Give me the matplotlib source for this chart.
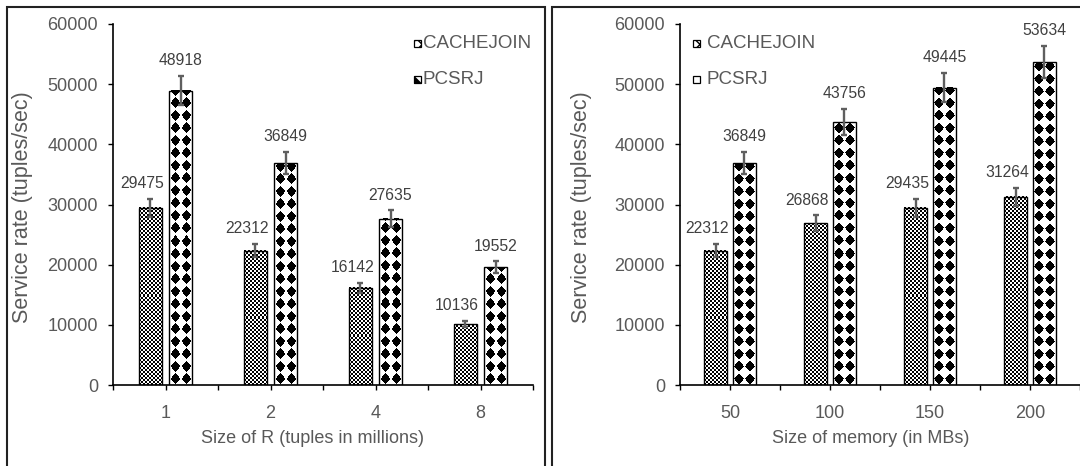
import numpy as np
import matplotlib
matplotlib.use("Agg")
import matplotlib.pyplot as plt
from matplotlib.patches import Rectangle, Polygon

plt.rcParams["font.family"] = ["Liberation Sans", "DejaVu Sans"]

# ---- data ----
series = ["CACHEJOIN", "PCSRJ"]

r_sizes = ["1", "2", "4", "8"]
r_cachejoin = [29475, 22312, 16142, 10136]
r_pcsrj = [48918, 36849, 27635, 19552]
r_cachejoin_err = [1470, 1120, 810, 510]
r_pcsrj_err = [2450, 1840, 1380, 980]

mem_sizes = ["50", "100", "150", "200"]
m_cachejoin = [22312, 26868, 29435, 31264]
m_pcsrj = [36849, 43756, 49445, 53634]
m_cachejoin_err = [1120, 1340, 1470, 1560]
m_pcsrj_err = [1840, 2190, 2470, 2680]

W_PX, H_PX = 1080, 466
TXT = "#595959"
LBL = "#404040"
LABEL_FONT = ["Liberation Sans Narrow", "Liberation Sans", "DejaVu Sans"]


def checker(w, h, cell=2):
    yy, xx = np.mgrid[0:h, 0:w]
    return ((xx // cell + yy // cell) % 2).astype(float)


def diamonds(w, h, px=11.0, py=12.5, r=0.92):
    yy, xx = np.mgrid[0:h, 0:w] + 0.5
    cx = w / 2.0 - px / 2.0
    dx = np.abs(((xx - cx) + px / 2) % px - px / 2) / (px / 2)
    dy = np.abs(((yy - py / 2) + py / 2) % py - py / 2) / (py / 2)
    return np.where(dx + dy < r, 0.0, 1.0)


def textured_bars(ax, xs, vals, width, pattern):
    bars = ax.bar(xs, vals, width, facecolor="none", edgecolor="black",
                  linewidth=1.0, zorder=3)
    for x, v in zip(xs, vals):
        x0, x1 = x - width / 2, x + width / 2
        p0 = ax.transData.transform((x0, 0))
        p1 = ax.transData.transform((x1, v))
        w = max(int(round(p1[0] - p0[0])), 1)
        h = max(int(round(p1[1] - p0[1])), 1)
        ax.imshow(pattern(w, h), extent=(x0, x1, 0, v), origin="lower",
                  cmap="gray", vmin=0, vmax=1, aspect="auto",
                  interpolation="nearest", zorder=2)
    return bars


def panel(rect, cats, cj, pc, cj_err, pc_err, xlabel, xlabel_pos):
    ax = fig.add_axes(rect)
    n = len(cats)
    ax.set_xlim(-0.5, n - 0.5)
    ax.set_ylim(0, 60000)
    idx = np.arange(n)
    bw, off = 0.228, 0.143

    textured_bars(ax, idx - off, cj, bw, checker)
    textured_bars(ax, idx + off, pc, bw, diamonds)
    ax.set_xlim(-0.5, n - 0.5)
    ax.set_ylim(0, 60000)

    for xs, vals, errs, dx in ((idx - off, cj, cj_err, -6), (idx + off, pc, pc_err, 0)):
        ax.errorbar(xs, vals, yerr=errs, fmt="none", ecolor="#5f5f5f",
                    elinewidth=1.7, capsize=2.4, capthick=1.7, zorder=4)
        for x, v, e in zip(xs, vals, errs):
            ax.annotate(f"{v}", (x, v + e), xytext=(dx, 11),
                        textcoords="offset points", ha="center", va="center",
                        fontsize=11.3, color=LBL, family=LABEL_FONT,
                        annotation_clip=False)

    ax.set_xticks(idx)
    ax.set_xticklabels(cats)
    ax.set_xticks(np.arange(n + 1) - 0.5, minor=True)
    ax.set_yticks(np.arange(0, 60001, 10000))
    ax.tick_params(axis="both", which="both", direction="out", length=3.8,
                   width=1.0, color="black", labelcolor=TXT, labelsize=13)
    ax.tick_params(axis="x", which="major", pad=10.5)
    ax.tick_params(axis="y", pad=7)
    for s in ("top", "right"):
        ax.spines[s].set_visible(False)
    for s in ("left", "bottom"):
        ax.spines[s].set_linewidth(1.2)
    ax.set_xlabel(xlabel, fontsize=13, color=TXT)
    ax.xaxis.set_label_coords(xlabel_pos, -0.125)
    ax.set_facecolor("none")
    return ax


def fx(px):
    return px / W_PX


def fy(py):
    return 1 - py / H_PX


def legend_key(x, y, kind):
    s = 7
    fig.add_artist(Rectangle((fx(x), fy(y + s)), s / W_PX, s / H_PX,
                             transform=fig.transFigure, facecolor="white",
                             edgecolor="black", linewidth=0.9,
                             hatch="xxx" if kind == "checker" else None))
    if kind == "tri":
        fig.add_artist(Polygon([(fx(x), fy(y)), (fx(x), fy(y + s)), (fx(x + s), fy(y + s))],
                               closed=True, transform=fig.transFigure,
                               facecolor="black", edgecolor="black", linewidth=0.5))


fig = plt.figure(figsize=(W_PX / 100, H_PX / 100), dpi=100)

bottom = fy(385)
height = (385 - 24) / H_PX
ax1 = panel([fx(113), bottom, fx(533) - fx(113), height], r_sizes,
            r_cachejoin, r_pcsrj, r_cachejoin_err, r_pcsrj_err,
            "Size of R (tuples in millions)", 0.476)
ax2 = panel([fx(680), bottom, fx(1080) - fx(680), height], mem_sizes,
            m_cachejoin, m_pcsrj, m_cachejoin_err, m_pcsrj_err,
            "Size of memory (in MBs)", 0.476)

for x in (23, 582):
    fig.text(fx(x), fy(207), "Service rate (tuples/sec)", rotation=90,
             ha="center", va="center", fontsize=15.5, color=TXT)

# legends
for (kx, tx), kinds in (((414, 423), ("checker", "tri")), ((693, 707), ("checker", "plain"))):
    for (ky, label), kind in zip(((40, series[0]), (76, series[1])), kinds):
        legend_key(kx, ky, kind)
        fig.text(fx(tx), fy(ky + 3.5), label, ha="left", va="center",
                 fontsize=13.5, color=TXT)

# panel frames
fig.add_artist(Rectangle((fx(7), fy(470)), fx(545) - fx(7), fy(7) - fy(470),
                         transform=fig.transFigure, fill=False,
                         edgecolor="#222222", linewidth=1.5))
fig.add_artist(Rectangle((fx(552), fy(470)), fx(1090) - fx(552), fy(7) - fy(470),
                         transform=fig.transFigure, fill=False,
                         edgecolor="#222222", linewidth=1.5))

fig.savefig("out.png", dpi=100)
